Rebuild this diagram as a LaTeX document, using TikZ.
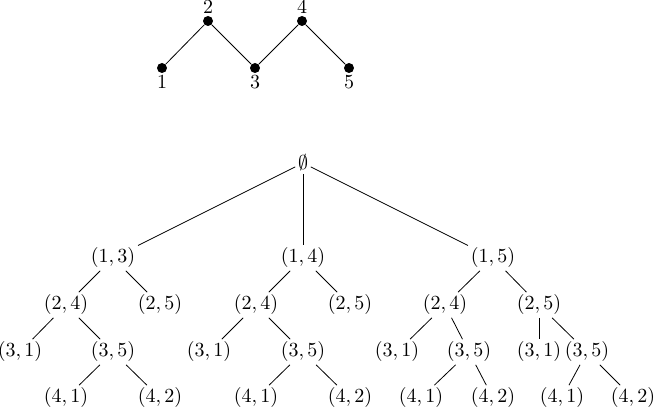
\documentclass[tikz,border=0pt]{standalone}
\usepackage{amsmath,amssymb}
\usepackage{tikz}
\usetikzlibrary{positioning}

\begin{document}
\begin{tikzpicture}[
  x=0.5pt, y=-0.5pt,
  dot/.style={circle, fill, inner sep=0pt, minimum size=5pt},
  lbl/.style={inner sep=1pt},
  tn/.style={inner sep=1.2pt},
  edge/.style={line width=0.4pt}
]
\useasboundingbox (0,0) rectangle (654,410);

% Poset
\node[dot] (p1) at (162,68) {};
\node[dot] (p2) at (208,21) {};
\node[dot] (p3) at (255,68) {};
\node[dot] (p4) at (302,21) {};
\node[dot] (p5) at (349,68) {};
\node[lbl, below=0pt of p1] (l1) {$1$};
\node[lbl, above=0pt of p2] (l2) {$2$};
\node[lbl, below=0pt of p3] (l3) {$3$};
\node[lbl, above=0pt of p4] (l4) {$4$};
\node[lbl, below=0pt of p5] (l5) {$5$};
\draw[edge] (p1) -- (p2) -- (p3) -- (p4) -- (p5);

% Tree, root and first level
\node[tn] (root) at (303,163) {$\emptyset$};
\node[tn] (a13) at (113,258) {$(1,3)$};
\node[tn] (b14) at (303,258) {$(1,4)$};
\node[tn] (c15) at (493,258) {$(1,5)$};
\draw[edge] (root) -- (a13);
\draw[edge] (root) -- (b14);
\draw[edge] (root) -- (c15);

% Subtree under (1,3)
\node[tn] (a24) at (66,305) {$(2,4)$};
\node[tn] (a25) at (160,305) {$(2,5)$};
\node[tn] (a31) at (20,352) {$(3,1)$};
\node[tn] (a35) at (113,352) {$(3,5)$};
\node[tn] (a41) at (66,398) {$(4,1)$};
\node[tn] (a42) at (160,398) {$(4,2)$};
\draw[edge] (a13) -- (a24);
\draw[edge] (a13) -- (a25);
\draw[edge] (a24) -- (a31);
\draw[edge] (a24) -- (a35);
\draw[edge] (a35) -- (a41);
\draw[edge] (a35) -- (a42);

% Subtree under (1,4)
\node[tn] (b24) at (256,305) {$(2,4)$};
\node[tn] (b25) at (350,305) {$(2,5)$};
\node[tn] (b31) at (209,352) {$(3,1)$};
\node[tn] (b35) at (303,352) {$(3,5)$};
\node[tn] (b41) at (256,398) {$(4,1)$};
\node[tn] (b42) at (350,398) {$(4,2)$};
\draw[edge] (b14) -- (b24);
\draw[edge] (b14) -- (b25);
\draw[edge] (b24) -- (b31);
\draw[edge] (b24) -- (b35);
\draw[edge] (b35) -- (b41);
\draw[edge] (b35) -- (b42);

% Subtree under (1,5)
\node[tn] (c24) at (445,305) {$(2,4)$};
\node[tn] (c25) at (539,305) {$(2,5)$};
\node[tn] (c31) at (397,352) {$(3,1)$};
\node[tn] (c35) at (469,352) {$(3,5)$};
\node[tn] (c41) at (421,398) {$(4,1)$};
\node[tn] (c42) at (493,398) {$(4,2)$};
\node[tn] (d31) at (539,352) {$(3,1)$};
\node[tn] (d35) at (587,352) {$(3,5)$};
\node[tn] (d41) at (562,398) {$(4,1)$};
\node[tn] (d42) at (633,398) {$(4,2)$};
\draw[edge] (c15) -- (c24);
\draw[edge] (c15) -- (c25);
\draw[edge] (c24) -- (c31);
\draw[edge] (c24) -- (c35);
\draw[edge] (c35) -- (c41);
\draw[edge] (c35) -- (c42);
\draw[edge] (c25) -- (d31);
\draw[edge] (c25) -- (d35);
\draw[edge] (d35) -- (d41);
\draw[edge] (d35) -- (d42);

\end{tikzpicture}
\end{document}
